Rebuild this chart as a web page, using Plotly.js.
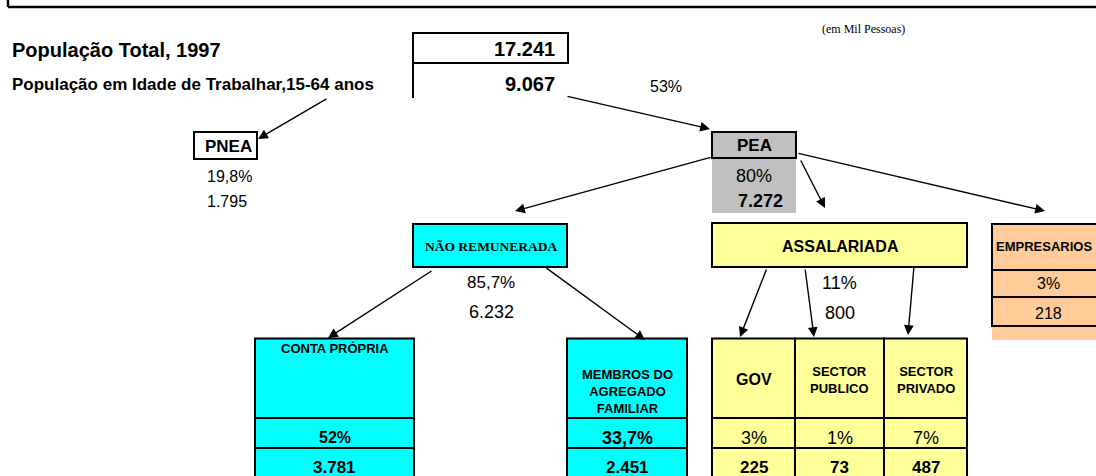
<!DOCTYPE html>
<html>
<head>
<meta charset="utf-8">
<script src="https://cdn.plot.ly/plotly-3.0.1.min.js"></script>
<style>html,body{margin:0;padding:0;background:#fff;}#chart{width:1096px;height:476px;}</style>
</head>
<body>
<div id="chart"></div>
<script>
// ---------------- DATA ----------------
const unitNote = "(em Mil Pessoas)";
const headerLabels = ["População Total, 1997", "População em Idade de Trabalhar,15-64 anos"];
const headerValues = ["17.241", "9.067"];
const workAgeShare = "53%";

const level1Names  = ["PNEA", "PEA"];
const level1Shares = ["19,8%", "80%"];
const level1Values = ["1.795", "7.272"];

const level2Names  = ["NÃO REMUNERADA", "ASSALARIADA", "EMPRESARIOS"];
const level2Shares = ["85,7%", "11%", "3%"];
const level2Values = ["6.232", "800", "218"];

const level3Names  = ["CONTA PRÓPRIA", "MEMBROS DO<br>AGREGADO<br>FAMILIAR", "GOV", "SECTOR<br>PUBLICO", "SECTOR<br>PRIVADO"];
const level3Shares = ["52%", "33,7%", "3%", "1%", "7%"];
const level3Values = ["3.781", "2.451", "225", "73", "487"];

// ---------------- LAYOUT GEOMETRY (pixel space of the axes) ----------------
const SANS = "Liberation Sans, Arial, sans-serif";
const SERIF = "Liberation Serif, Times New Roman, serif";
const CYAN = "#00FFFF", YELLOW = "#FFFF99", PEACH = "#FFCC99", GREY = "#C0C0C0";

const shapes = [];
const annotations = [];

function rect(x0, y0, x1, y1, fill, lw) {
  shapes.push({type: "rect", xref: "x", yref: "y", x0, y0, x1, y1,
    fillcolor: fill || "rgba(0,0,0,0)",
    line: {color: lw ? "black" : "rgba(0,0,0,0)", width: lw || 0}});
}
function line(x0, y0, x1, y1, w) {
  shapes.push({type: "line", xref: "x", yref: "y", x0, y0, x1, y1, line: {color: "black", width: w || 2}});
}
function txt(text, x, y, size, opts) {
  opts = opts || {};
  annotations.push({x, y, xref: "x", yref: "y", showarrow: false,
    text: opts.bold ? "<b>" + text + "</b>" : text,
    xanchor: opts.anchor || "center", yanchor: "middle",
    font: {family: opts.family || SANS, size, color: "black"}});
}
function arrow(tx, ty, hx, hy) {
  annotations.push({x: hx, y: hy, ax: tx, ay: ty, xref: "x", yref: "y", axref: "x", ayref: "y",
    text: "", showarrow: true, arrowhead: 2, arrowsize: 1.4, arrowwidth: 1.4,
    arrowcolor: "black", standoff: 0, startstandoff: 0});
}

// top frame remnant
line(8, 7, 1110, 7, 2.5);
line(8, -4, 8, 7, 2.5);

// header block
txt(unitNote, 863, 29, 12, {family: SERIF});
txt(headerLabels[0], 10, 50, 20, {bold: true, anchor: "left"});
txt(headerLabels[1], 10, 84, 17, {bold: true, anchor: "left"});
rect(413, 33, 568, 63, null, 2);
line(413, 63, 413, 98, 2);
txt(headerValues[0], 557, 49, 20, {bold: true, anchor: "right"});
txt(headerValues[1], 557, 84, 20, {bold: true, anchor: "right"});
txt(workAgeShare, 666, 86, 16);

// level 1
rect(194, 132, 257, 159, "white", 2);
txt(level1Names[0], 228, 146, 17, {bold: true});
txt(level1Shares[0], 205, 176, 16, {anchor: "left"});
txt(level1Values[0], 205, 201.5, 16, {anchor: "left"});

rect(712, 158, 796, 213, GREY, 0);
rect(712, 132, 796, 158, GREY, 2);
txt(level1Names[1], 754, 145, 17, {bold: true});
txt(level1Shares[1], 754, 176, 18);
txt(level1Values[1], 760, 201, 18, {bold: true});

// level 2
rect(413, 224, 567, 267, CYAN, 2);
txt(level2Names[0], 491, 246.5, 13.5, {bold: true, family: SERIF});
txt(level2Shares[0], 491, 282.5, 17);
txt(level2Values[0], 491, 312, 18);

rect(712, 223, 967, 267, YELLOW, 2);
txt(level2Names[1], 840, 246, 16, {bold: true});
txt(level2Shares[1], 839, 283, 18);
txt(level2Values[1], 839.5, 312.5, 18);

rect(992, 326, 1104, 340, PEACH, 0);
rect(992, 224, 1104, 270, PEACH, 2);
rect(992, 270, 1104, 297, PEACH, 2);
rect(992, 297, 1104, 326, PEACH, 2);
txt(level2Names[2], 1094, 246, 13, {bold: true, anchor: "right"});
txt(level2Shares[2], 1048, 283, 16);
txt(level2Values[2], 1048, 313, 16);

// level 3 cells
const rowsY = [338.5, 418, 448, 480];
const cols = [[255, 414, CYAN], [567, 687, CYAN], [712, 795, YELLOW], [795, 884, YELLOW], [884, 967, YELLOW]];
cols.forEach(function (c) {
  for (let r = 0; r < 3; r++) rect(c[0], rowsY[r], c[1], rowsY[r + 1], c[2], 2);
});
txt(level3Names[0], 335, 348, 13, {bold: true});
txt(level3Names[1], 627, 391, 13, {bold: true});
txt(level3Names[2], 753.5, 379, 16, {bold: true});
txt(level3Names[3], 839.5, 380, 13, {bold: true});
txt(level3Names[4], 925.5, 380, 13, {bold: true});
const shareSizes = [16, 18, 18, 18, 18];
const shareBold = [true, true, false, false, false];
level3Shares.forEach(function (s, i) {
  const cx = (cols[i][0] + cols[i][1]) / 2;
  txt(s, cx, 437.5, shareSizes[i], {bold: shareBold[i]});
  txt(level3Values[i], cx, 467, 17, {bold: true});
});

// arrows (tail -> head)
arrow(328, 98, 258, 139);
arrow(566, 96, 710, 129);
arrow(712, 157, 515, 211);
arrow(800, 159, 825, 208);
arrow(797, 153, 1045, 211);
arrow(433, 270, 328, 338);
arrow(545, 267, 645, 340);
arrow(767, 268, 740, 337);
arrow(805, 268, 814, 337);
arrow(914, 266, 908, 335);

const layout = {
  width: 1096, height: 476,
  margin: {l: 0, r: 0, t: 0, b: 0, pad: 0},
  paper_bgcolor: "white", plot_bgcolor: "white",
  showlegend: false,
  xaxis: {range: [0, 1096], visible: false, fixedrange: true},
  yaxis: {range: [476, 0], visible: false, fixedrange: true},
  shapes: shapes,
  annotations: annotations
};
Plotly.newPlot("chart", [{x: [], y: [], type: "scatter", mode: "markers", hoverinfo: "skip"}], layout,
  {displayModeBar: false, staticPlot: true});
</script>
</body>
</html>
